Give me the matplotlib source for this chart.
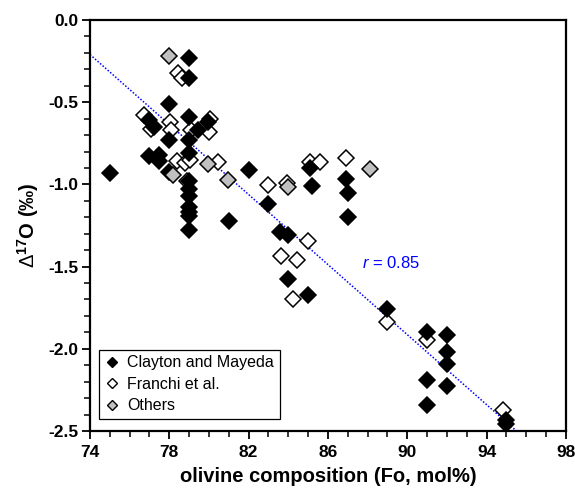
import matplotlib
matplotlib.use("Agg")
import numpy as np
import matplotlib.pyplot as plt
from matplotlib.ticker import MultipleLocator, FixedLocator
from matplotlib.lines import Line2D

plt.rcParams['font.family'] = ['Liberation Sans', 'DejaVu Sans']
plt.rcParams['mathtext.fontset'] = 'custom'
plt.rcParams['mathtext.rm'] = 'Liberation Sans'
plt.rcParams['mathtext.it'] = 'Liberation Sans:italic'
plt.rcParams['mathtext.bf'] = 'Liberation Sans:bold'

# Clayton and Mayeda (black)
cm_fo = [79.0, 79.0, 78.0, 77.0, 77.25, 79.0, 79.46, 79.97, 78.0, 79.0, 79.0, 75.0,
         77.0, 77.5, 77.5, 78.0, 79.0, 79.0, 79.0, 79.0, 79.0, 79.0, 79.0,
         82.0, 81.0, 83.0, 83.6, 84.0, 84.0, 85.0, 85.1, 85.2, 86.9, 87.0, 87.0,
         89.0, 91.0, 92.0, 92.0, 92.0, 91.0, 92.0, 91.0, 95.0, 95.0]
cm_d17 = [-0.23, -0.355, -0.51, -0.61, -0.65, -0.59, -0.67, -0.62, -0.73, -0.73, -0.81, -0.93,
          -0.83, -0.82, -0.86, -0.925, -0.98, -1.03, -1.07, -1.135, -1.165, -1.195, -1.275,
          -0.915, -1.225, -1.12, -1.29, -1.31, -1.575, -1.675, -0.90, -1.01, -0.97, -1.05, -1.20,
          -1.76, -1.895, -1.915, -2.02, -2.095, -2.19, -2.225, -2.34, -2.43, -2.455]

# Franchi et al. (open)
fr_fo = [78.45, 78.65, 76.7, 77.08, 78.03, 78.08, 79.1, 80.05, 80.0, 78.37, 78.8, 79.05,
         78.9, 80.45, 83.0, 83.95, 85.1, 85.6, 86.9, 85.0, 83.65, 84.45, 84.25, 89.0, 91.0, 94.85]
fr_d17 = [-0.32, -0.35, -0.58, -0.665, -0.62, -0.67, -0.67, -0.6, -0.68, -0.856, -0.87, -0.85,
          -0.98, -0.862, -1.006, -0.99, -0.862, -0.862, -0.84, -1.345, -1.435, -1.46, -1.70,
          -1.835, -1.945, -2.372]

# Others (gray)
ot_fo = [78.0, 78.2, 79.97, 80.97, 84.0, 88.1]
ot_d17 = [-0.22, -0.94, -0.878, -0.973, -1.015, -0.905]

# regression line
fit_x = [74.0, 95.5]
fit_slope = -0.1065
fit_y0 = -0.21  # value at x = 74
r_text = "0.85"

x_ticks = [74, 78, 82, 86, 90, 94, 98]
y_ticks = [0.0, -0.5, -1.0, -1.5, -2.0, -2.5]
y_tick_labels = ['0.0', '-0.5', '-1.0', '-1.5', '-2.0', '-2.5']

fig = plt.figure(figsize=(5.75, 4.96), dpi=100)
ax = fig.add_axes([0.1565, 0.131, 0.8278, 0.8287])

fy = [fit_y0 + fit_slope * (x - fit_x[0]) for x in fit_x]
ax.plot(fit_x, fy, color='#0000ff', linestyle=(0, (1.0, 1.2)), linewidth=1.1, zorder=1)

ms = 7.8
ax.plot(fr_fo, fr_d17, 'D', ms=ms, mfc='white', mec='black', mew=1.1, linestyle='none', zorder=2)
ax.plot(cm_fo, cm_d17, 'D', ms=ms, mfc='black', mec='black', mew=1.1, linestyle='none', zorder=3)
ax.plot(ot_fo, ot_d17, 'D', ms=ms, mfc='#c0c0c0', mec='black', mew=1.1, linestyle='none', zorder=4)

ax.text(87.7, -1.48, r'$\mathit{r}$ = ' + r_text, color='#0000ff', fontsize=12, va='center', ha='left')

ax.set_xlim(74, 98)
ax.set_ylim(-2.5, 0.0)
ax.set_xticks(x_ticks, [str(t) for t in x_ticks], fontsize=12.5, fontweight='bold')
ax.set_yticks(y_ticks, y_tick_labels, fontsize=12.5, fontweight='bold')
ax.xaxis.set_minor_locator(MultipleLocator(1))
ax.yaxis.set_minor_locator(MultipleLocator(0.1))
ax.tick_params(axis='both', which='major', direction='out', length=6, width=1.3,
               top=False, right=False)
ax.tick_params(axis='y', which='major', pad=2.5)
ax.tick_params(axis='x', which='major', pad=4)
ax.tick_params(axis='both', which='minor', direction='out', length=4, width=1.1,
               top=False, right=False)
for s in ax.spines.values():
    s.set_linewidth(1.6)

ax.set_xlabel('olivine composition (Fo, mol%)', fontsize=14.5, fontweight='bold', labelpad=5)
ax.set_ylabel('$\\Delta^{\\mathbf{17}}$O (‰)', fontsize=14.5, fontweight='bold', labelpad=5)

handles = [
    Line2D([], [], marker='D', ms=5.5, mfc='black', mec='black', mew=1.0, linestyle='none'),
    Line2D([], [], marker='D', ms=5.5, mfc='white', mec='black', mew=1.0, linestyle='none'),
    Line2D([], [], marker='D', ms=5.5, mfc='#c0c0c0', mec='black', mew=1.0, linestyle='none'),
]
leg = ax.legend(handles, ['Clayton and Mayeda', 'Franchi et al.', 'Others'],
                loc='lower left', bbox_to_anchor=(0.018, 0.03), fontsize=11.5,
                frameon=True, fancybox=False, framealpha=1, edgecolor='black',
                handlelength=1.0, handletextpad=0.45, borderpad=0.35, labelspacing=0.4,
                borderaxespad=0)
leg.get_frame().set_linewidth(0.9)

fig.savefig('out.png', dpi=100)
